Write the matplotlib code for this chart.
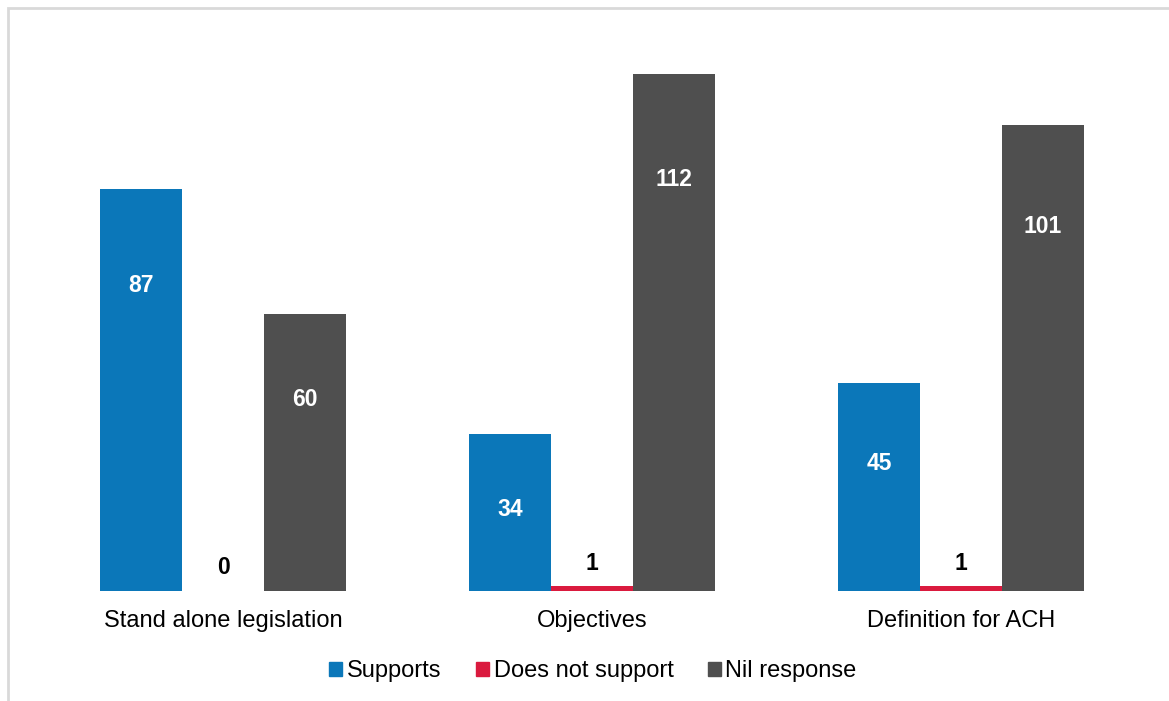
import numpy as np
import matplotlib.pyplot as plt
from matplotlib.patches import Patch, Rectangle

plt.rcParams['font.family'] = ['Liberation Sans', 'DejaVu Sans']

categories = ['Stand alone legislation', 'Objectives', 'Definition for ACH']
series_names = ['Supports', 'Does not support', 'Nil response']
supports = [87, 34, 45]
not_support = [0, 1, 1]
nil_response = [60, 112, 101]
colors = ['#0B77B9', '#DA1A3E', '#4F4F4F']

fig = plt.figure(figsize=(11.69, 7.01), dpi=100)
ax = fig.add_axes([38.5 / 1169, 110 / 701, 1107 / 1169, 554 / 701])

x = np.arange(len(categories))
w = 0.222
for i, (vals, col) in enumerate(zip([supports, not_support, nil_response], colors)):
    xs = x + (i - 1) * w
    ax.bar(xs, vals, width=w, color=col)
    for xi, v in zip(xs, vals):
        if v < 5:
            ax.text(xi, v + 5.0, str(v), ha='center', va='center',
                    fontsize=16.5, fontweight='bold', color='black')
        else:
            ax.text(xi, v * 0.917 - 13.6, str(v), ha='center', va='center',
                    fontsize=16.5, fontweight='bold', color='white')

ax.set_xlim(-0.5, 2.5)
ax.set_ylim(0, 120)
ax.set_xticks(x)
ax.set_xticklabels(categories, fontsize=17)
ax.tick_params(axis='x', length=0, pad=14)
ax.set_yticks([])
for s in ax.spines.values():
    s.set_visible(False)

handles = [Patch(color=c) for c in colors]
fig.legend(handles, series_names, loc='center', bbox_to_anchor=(593 / 1169, 1 - 671 / 701),
           ncol=3, frameon=False, fontsize=17, handlelength=0.55, handleheight=0.55,
           handletextpad=0.2, columnspacing=1.45)

# light border around chart area
fig.patches.append(Rectangle((8 / 1169, -0.1), 1.2, 1 - 8 / 701 + 0.1,
                             transform=fig.transFigure, fill=False,
                             edgecolor='#D9D9D9', linewidth=2))

fig.savefig('out.png', dpi=100)
